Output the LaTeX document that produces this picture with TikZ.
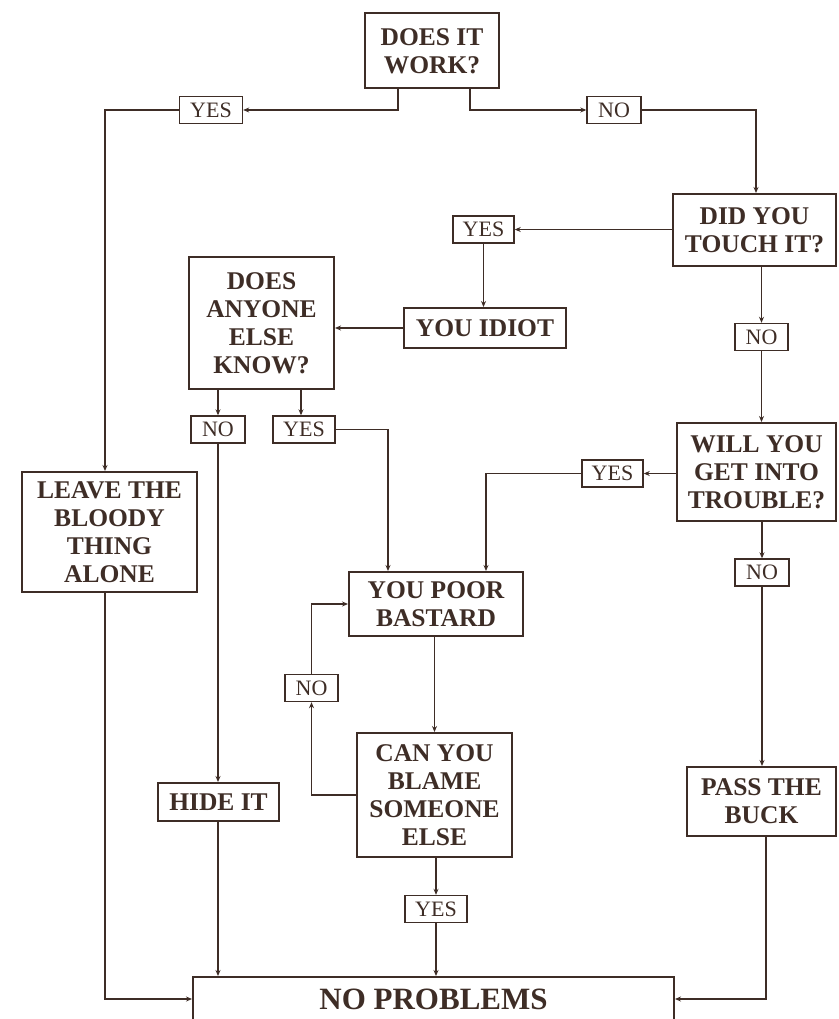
\documentclass[tikz,border=0pt]{standalone}
\usepackage{fontspec}
\setmainfont{Liberation Serif}
\usepackage{tikz}
\usetikzlibrary{shapes,arrows.meta}
\definecolor{ink}{RGB}{62,45,38}

\begin{document}
\begin{tikzpicture}[
      x=1pt, y=-1pt,
      >={Stealth[length=6pt,width=5pt]},
      pointer/.style={line width=1.6pt, ->, draw=ink},
      qbox/.style={rectangle, line width=2pt, draw=ink, text=ink, align=center, inner sep=0pt,
        font=\fontsize{25.5}{28}\selectfont\bfseries},
      tag/.style={rectangle, line width=1.4pt, draw=ink, text=ink, inner sep=0pt,
        minimum height=27, font=\fontsize{22}{24}\selectfont}
      ]
      \useasboundingbox (0,0) rectangle (838,1019);
      % questions and answers
      \node[qbox, minimum width=134, minimum height=75] (work) at (432,51) {DOES IT\\WORK?};
      \node[qbox, minimum width=163, minimum height=72] (touch) at (754.5,230) {DID YOU\\TOUCH IT?};
      \node[qbox, minimum width=162, minimum height=40] (idiot) at (485,328) {YOU IDIOT};
      \node[qbox, minimum width=145, minimum height=132] (anyone) at (261.5,323) {DOES\\ANYONE\\ELSE\\KNOW?};
      \node[qbox, minimum width=159, minimum height=98] (trouble) at (756.5,472) {WILL YOU\\GET INTO\\TROUBLE?};
      \node[qbox, minimum width=175, minimum height=120] (leave) at (109.5,532) {LEAVE THE\\BLOODY\\THING\\ALONE};
      \node[qbox, minimum width=174, minimum height=64] (poor) at (436,604) {YOU POOR\\BASTARD};
      \node[qbox, minimum width=155, minimum height=124] (blame) at (434.5,795) {CAN YOU\\BLAME\\SOMEONE\\ELSE};
      \node[qbox, minimum width=121, minimum height=38] (hide) at (218.5,802) {HIDE IT};
      \node[qbox, minimum width=149, minimum height=69] (buck) at (761.5,801.5) {PASS THE\\BUCK};
      \node[qbox, minimum width=481, minimum height=44,
        font=\fontsize{31}{33}\selectfont\bfseries] (nop) at (433.5,999) {NO PROBLEMS};
      % yes / no tags
      \node[tag, minimum width=63] (yesA) at (211,110) {YES};
      \node[tag, minimum width=54] (noA) at (614,110) {NO};
      \node[tag, minimum width=61] (yesB) at (483.5,229.5) {YES};
      \node[tag, minimum width=54] (noC) at (218,429.5) {NO};
      \node[tag, minimum width=62] (yesC) at (304,429.5) {YES};
      \node[tag, minimum width=53] (noD) at (761.5,337) {NO};
      \node[tag, minimum width=61] (yesD) at (612.5,473.5) {YES};
      \node[tag, minimum width=54] (noE) at (762,572.5) {NO};
      \node[tag, minimum width=53] (noF) at (311.5,688) {NO};
      \node[tag, minimum width=62] (yesF) at (436,909) {YES};
      % connectors
      \draw[pointer] ([xshift=-34pt]work.south) |- (yesA);
      \draw[pointer] (yesA) -| ([xshift=-4.5pt]leave.north);
      \draw[pointer] ([xshift=38pt]work.south) |- (noA);
      \draw[pointer] (noA) -| ([xshift=1.5pt]touch.north);
      \draw[pointer] (touch.west |- yesB) -- (yesB);
      \draw[pointer] (yesB) -- (yesB |- idiot.north);
      \draw[pointer] (idiot.west) -- (idiot.west -| anyone.east);
      \draw[pointer] (anyone.south -| noC) -- (noC);
      \draw[pointer] ([xshift=-3pt]anyone.south -| yesC) -- ([xshift=-3pt]yesC.north);
      \draw[pointer] (yesC) -| ([xshift=-48pt]poor.north);
      \draw[pointer] (noC) -- (noC |- hide.north);
      \draw[pointer] (touch.south -| noD) -- (noD);
      \draw[pointer] (noD) -- (noD |- trouble.north);
      \draw[pointer] (trouble.west |- yesD) -- (yesD);
      \draw[pointer] (yesD) -| ([xshift=50pt]poor.north);
      \draw[pointer] (trouble.south -| noE) -- (noE);
      \draw[pointer] (noE) -- (noE |- buck.north);
      \draw[pointer] (poor.south -| blame) -- (blame);
      \draw[pointer] (blame.west) -| (noF);
      \draw[pointer] (noF) |- (poor);
      \draw[pointer] (blame.south -| yesF) -- (yesF);
      \draw[pointer] (yesF) -- (yesF |- nop.north);
      \draw[pointer] (hide.south -| noC) -- (noC |- nop.north);
      \draw[pointer] ([xshift=-4.5pt]leave.south) |- (nop);
      \draw[pointer] ([xshift=4.5pt]buck.south) |- (nop);
    \end{tikzpicture}
\end{document}
